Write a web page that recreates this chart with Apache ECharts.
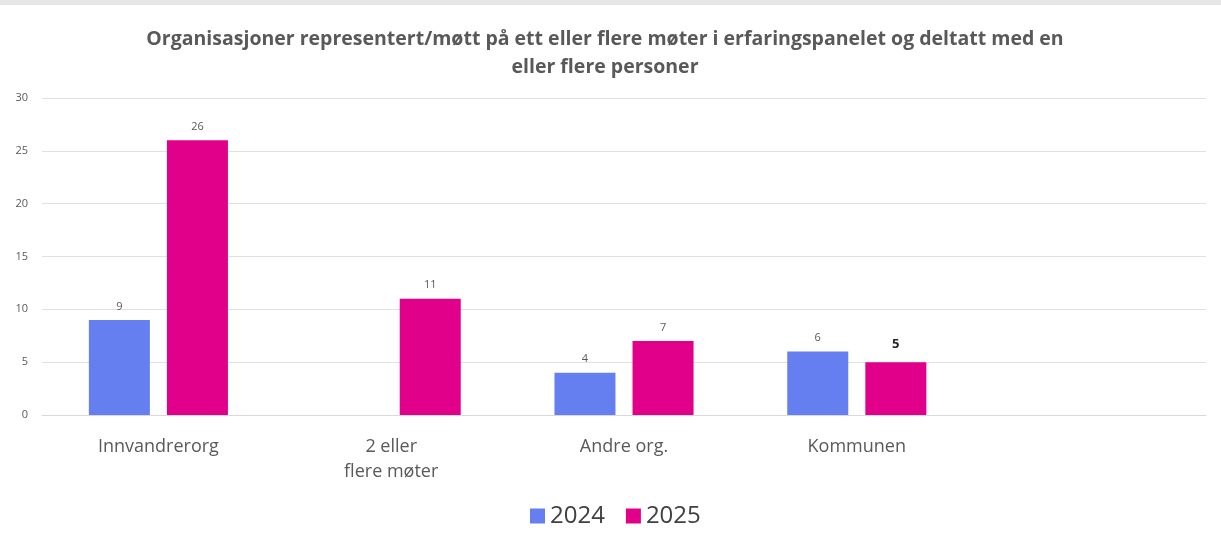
<!DOCTYPE html>
<html>
<head>
<meta charset="utf-8">
<script src="https://cdn.jsdelivr.net/npm/echarts@6/dist/echarts.min.js"></script>
<style>html,body{margin:0;padding:0;background:#fff;}#c{width:1221px;height:538px;}</style>
</head>
<body>
<div id="c"></div>
<script>
const categories = ['Innvandrerorg', '2 eller\nflere møter', 'Andre org.', 'Kommunen', ''];
const values2024 = [9, null, 4, 6, null];
const values2025 = [26, 11, 7, 5, null];
const yTicks = { min: 0, max: 30, interval: 5 };
const titleText = 'Organisasjoner representert/møtt på ett eller flere møter i erfaringspanelet og deltatt med en\neller flere personer';

const chart = echarts.init(document.getElementById('c'));
const font = '"Open Sans", sans-serif';
const dataLabel = { show: true, position: 'top', distance: 8, color: '#595959', fontSize: 11, fontFamily: font };

chart.setOption({
  animation: false,
  backgroundColor: '#fff',
  title: {
    text: titleText,
    left: 600, textAlign: 'center', top: 20,
    textStyle: { fontFamily: font, fontWeight: 'bold', fontSize: 19.5, color: '#595959', lineHeight: 28 }
  },
  legend: {
    bottom: 5, left: 525,
    itemWidth: 15, itemHeight: 15, itemGap: 21,
    icon: 'rect',
    textStyle: { fontFamily: font, fontSize: 24, color: '#404040' },
    data: ['2024', '2025']
  },
  grid: { left: 42, right: 15, top: 98, bottom: 123, containLabel: false },
  xAxis: {
    type: 'category', data: categories,
    axisLine: { show: true, lineStyle: { color: '#d9d9d9' } },
    axisTick: { show: false },
    axisLabel: { fontFamily: font, fontSize: 18, color: '#595959', margin: 19, lineHeight: 25, interval: 0 }
  },
  yAxis: {
    type: 'value', min: yTicks.min, max: yTicks.max, interval: yTicks.interval,
    axisLabel: { fontFamily: font, fontSize: 11, color: '#595959', margin: 14 },
    splitLine: { lineStyle: { color: '#e0e0e0', width: 1 } },
    axisLine: { show: false }, axisTick: { show: false }
  },
  series: [
    { name: '2024', type: 'bar', data: values2024, barWidth: 61, barGap: '28%',
      itemStyle: { color: '#657ef0' }, label: dataLabel },
    { name: '2025', type: 'bar', data: values2025.map((v, i) => i === 3 ? { value: v, label: { color: '#262626', fontSize: 13, fontWeight: 'bold', distance: 11 } } : v),
      barWidth: 61,
      itemStyle: { color: '#e0008a' }, label: dataLabel }
  ],
  graphic: [
    { type: 'rect', shape: { x: 0, y: 0, width: 1221, height: 5 }, style: { fill: '#e6e6e6' }, silent: true }
  ]
});
</script>
</body>
</html>
